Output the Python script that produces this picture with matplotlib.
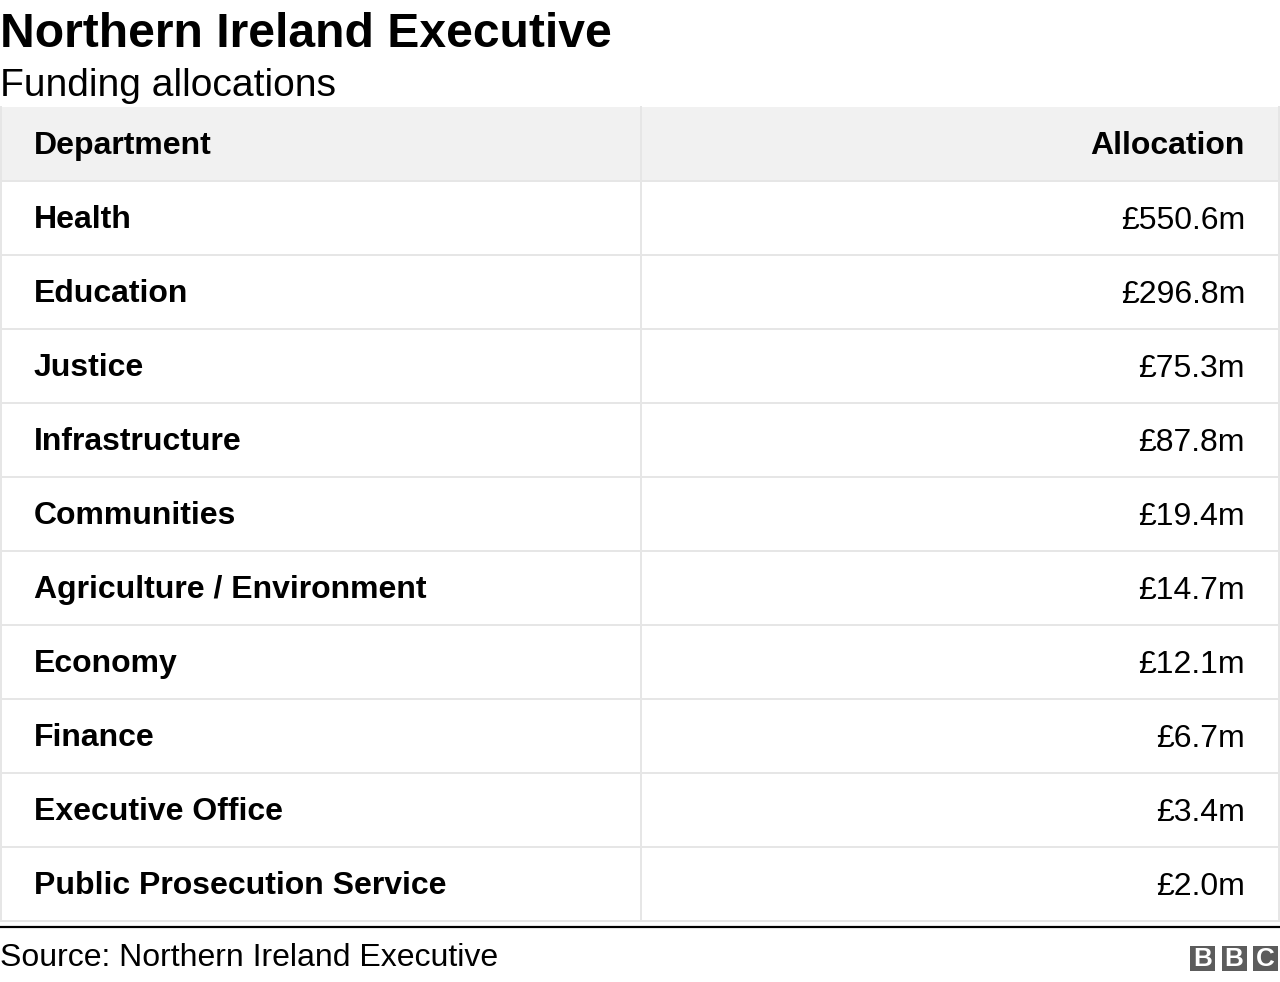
#!/usr/bin/env python3
"""Northern Ireland Executive funding allocations, drawn as a BBC-style table."""

import matplotlib

matplotlib.use("Agg")
import matplotlib.pyplot as plt
from matplotlib.patches import Rectangle

TITLE = "Northern Ireland Executive"
SUBTITLE = "Funding allocations"
SOURCE = "Source: Northern Ireland Executive"
COLUMNS = ["Department", "Allocation"]

departments = [
    "Health", "Education", "Justice", "Infrastructure", "Communities",
    "Agriculture / Environment", "Economy", "Finance", "Executive Office",
    "Public Prosecution Service",
]
allocations = [550.6, 296.8, 75.3, 87.8, 19.4, 14.7, 12.1, 6.7, 3.4, 2.0]

W, H = 1280, 982
FONT = "Liberation Sans"
GRID = "#e6e6e6"
HEAD_BG = "#f1f1f1"
PX = 72 / 100  # points per pixel at dpi 100


def main() -> None:
    fig = plt.figure(figsize=(W / 100, H / 100), dpi=100)
    ax = fig.add_axes([0, 0, 1, 1])
    ax.set_xlim(0, W)
    ax.set_ylim(H, 0)
    ax.axis("off")

    # titles
    ax.text(0, 47, TITLE, fontsize=48 * PX, fontweight="bold", family=FONT, va="baseline")
    ax.text(0, 96, SUBTITLE, fontsize=39 * PX, family=FONT, va="baseline")

    # table geometry
    left, right, mid = 1, 1279, 641
    top, row_h = 107, 74
    n_rows = len(departments) + 1
    bottom = top + row_h * n_rows

    ax.add_patch(Rectangle((left, top), right - left, row_h, facecolor=HEAD_BG,
                           edgecolor="none", zorder=0))
    lw = 2 * PX
    for i in range(1, n_rows + 1):
        y = top + row_h * i
        ax.plot([left, right], [y, y], color=GRID, lw=lw, zorder=1)
    for x in (left, mid, right):
        ax.plot([x, x], [top, bottom], color=GRID, lw=lw, zorder=1)

    fs = 32 * PX
    ax.text(34, top + 47, COLUMNS[0], fontsize=fs, fontweight="bold", family=FONT,
            va="baseline")
    ax.text(1245, top + 47, COLUMNS[1], fontsize=fs, fontweight="bold", family=FONT,
            va="baseline", ha="right")
    for i, (dept, val) in enumerate(zip(departments, allocations), start=1):
        y = top + row_h * i + 47
        ax.text(34, y, dept, fontsize=fs, fontweight="bold", family=FONT, va="baseline")
        ax.text(1245, y + 1, f"£{val:.1f}m", fontsize=fs, family=FONT,
                va="baseline", ha="right")

    # footer
    ax.plot([0, W], [927, 927], color="black", lw=2.2 * PX)
    ax.text(0, 966, SOURCE, fontsize=32 * PX, family=FONT, va="baseline")
    for j, letter in enumerate("BBC"):
        x0 = 1190 + j * 31.5
        ax.add_patch(Rectangle((x0, 946), 25, 25, facecolor="#5c5c5c", edgecolor="none"))
        ax.text(x0 + 12.5, 959.5, letter, fontsize=26 * PX, fontweight="bold",
                family=FONT, color="white", ha="center", va="center")

    fig.savefig("out.png", dpi=100)
    plt.close(fig)


if __name__ == "__main__":
    main()
